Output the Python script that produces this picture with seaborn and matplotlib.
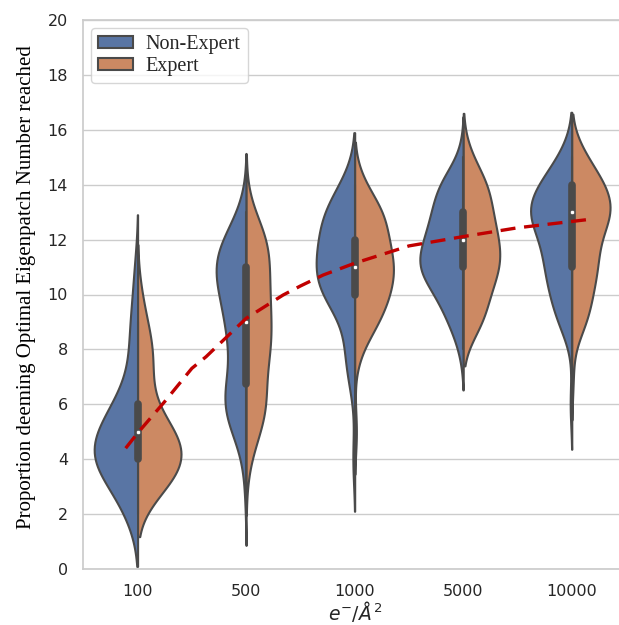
import numpy as np
import pandas as pd
import matplotlib
matplotlib.use("Agg")
import matplotlib.pyplot as plt
import seaborn as sns

# ---- data (frequency of each eigenpatch number 0..17) ----
values = list(range(18))
doses = ["100", "500", "1000", "5000", "10000"]
groups = ["Non-Expert", "Expert"]

ne_100   = [0, 0, 3, 6, 13, 10, 6, 2, 2, 2, 1, 1, 0, 0, 0, 0, 0, 0]
ex_100   = [0, 0, 0, 7, 12, 9, 3, 3, 4, 2, 1, 0, 0, 0, 0, 0, 0, 0]
ne_500   = [0, 0, 0, 1, 0, 4, 12, 4, 5, 8, 7, 14, 9, 1, 0, 0, 0, 0]
ex_500   = [0, 0, 0, 0, 1, 5, 10, 4, 11, 8, 9, 7, 11, 1, 0, 0, 0, 0]
ne_1000  = [0, 0, 0, 0, 1, 0, 0, 2, 3, 1, 10, 10, 8, 9, 3, 0, 0, 0]
ex_1000  = [0, 0, 0, 0, 0, 1, 0, 0, 2, 8, 11, 13, 10, 10, 3, 0, 0, 0]
ne_5000  = [0, 0, 0, 0, 0, 0, 0, 0, 1, 4, 7, 13, 10, 8, 7, 1, 0, 0]
ex_5000  = [0, 0, 0, 0, 0, 0, 0, 0, 0, 6, 6, 10, 9, 7, 7, 2, 0, 0]
ne_10000 = [0, 0, 0, 0, 0, 0, 1, 0, 0, 5, 7, 9, 9, 16, 11, 4, 0, 0]
ex_10000 = [0, 0, 0, 0, 0, 0, 0, 1, 0, 7, 8, 11, 10, 18, 14, 6, 0, 0]

# fitted trend (dashed red curve), x in category positions
trend_x = [-0.11, 0.0, 0.25, 0.5, 0.63, 1.0, 1.34, 1.5, 1.71, 2.0, 2.5, 3.0, 3.5, 4.17]
trend_y = [4.40, 4.95, 6.10, 7.31, 7.73, 9.13, 9.98, 10.31, 10.71, 11.14, 11.77, 12.11, 12.43, 12.74]

counts = {
    ("100", "Non-Expert"): ne_100, ("100", "Expert"): ex_100,
    ("500", "Non-Expert"): ne_500, ("500", "Expert"): ex_500,
    ("1000", "Non-Expert"): ne_1000, ("1000", "Expert"): ex_1000,
    ("5000", "Non-Expert"): ne_5000, ("5000", "Expert"): ex_5000,
    ("10000", "Non-Expert"): ne_10000, ("10000", "Expert"): ex_10000,
}
frames = []
for (dose, grp), cnt in counts.items():
    v = np.repeat(values, cnt).astype(float)
    frames.append(pd.DataFrame({"dose": dose, "group": grp, "value": v}))
df = pd.concat(frames, ignore_index=True)

sns.set_theme(style="whitegrid")
plt.rcParams["font.family"] = ["DejaVu Sans"]

fig = plt.figure(figsize=(6.19, 6.25), dpi=100)
ax = fig.add_axes([0.1346, 0.0896, 0.8768, 0.8784])

gray = "#4a4a4a"
sns.violinplot(data=df, x="dose", y="value", hue="group", split=True, inner=None,
               order=doses, hue_order=groups, palette="deep", linewidth=1.5,
               linecolor=gray, ax=ax)

# inner box (combined data, drawn at the centre of each split violin)
for i, dose in enumerate(doses):
    v = df.loc[df["dose"] == dose, "value"].to_numpy()
    q1, q2, q3 = np.percentile(v, [25, 50, 75])
    lim = 1.5 * (q3 - q1)
    lo = v[v >= q1 - lim].min()
    hi = v[v <= q3 + lim].max()
    ax.plot([i, i], [lo, hi], color=gray, lw=1.5, zorder=3)
    ax.plot([i, i], [q1, q3], color=gray, lw=5.5, solid_capstyle="round", zorder=3)
    ax.scatter([i], [q2], s=10, color="white", edgecolor=gray, linewidth=0.5, zorder=3.5)

ax.plot(trend_x, trend_y, color="#c00000", lw=2.4, dashes=(4.5, 2.6), zorder=5)

ax.set_ylim(0, 20)
ax.set_yticks(range(0, 21, 2))
ax.set_xlim(-0.5, 4.5)
ax.tick_params(axis="both", labelsize=11.5, pad=5, colors=".15")
ax.set_ylabel("Proportion deeming Optimal Eigenpatch Number reached",
              family="Liberation Serif", fontsize=15, labelpad=8, color="black")
ax.yaxis.label.set_y(0.513)
ax.set_xlabel(r"$e^{-}/Å^2$", fontsize=13.5, labelpad=0, color=".15")

old = ax.get_legend()
handles = old.legend_handles
labels = [t.get_text() for t in old.get_texts()]
ax.legend(handles, labels, loc="upper left", prop={"family": "Liberation Serif", "size": 14.5},
          handlelength=1.7, handleheight=0.6, handletextpad=0.65, labelspacing=0.15,
          borderpad=0.35, borderaxespad=0.4, frameon=True)

fig.savefig("out.png", dpi=100)
